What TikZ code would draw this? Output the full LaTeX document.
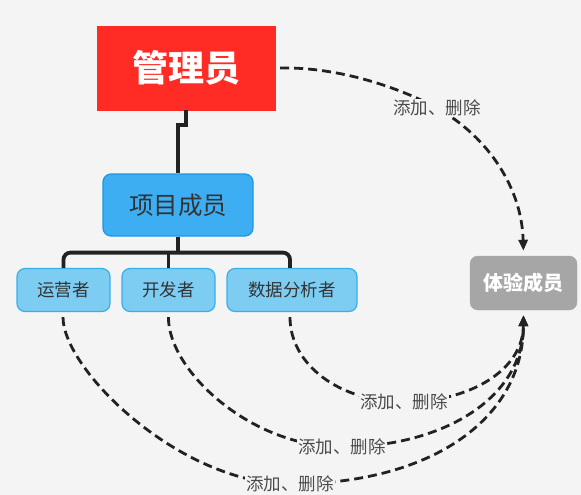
\documentclass[tikz,border=0pt]{standalone}
\usepackage{fontspec}
\setmainfont{Noto Sans CJK SC}
\usetikzlibrary{arrows.meta}
\definecolor{bg}{HTML}{F4F4F4}
\definecolor{adminred}{HTML}{FF2B24}
\definecolor{projfill}{HTML}{3DAEF2}
\definecolor{projline}{HTML}{1C97E3}
\definecolor{kidfill}{HTML}{7DCDF3}
\definecolor{kidline}{HTML}{3AAEE8}
\definecolor{expgray}{HTML}{A6A6A6}
\definecolor{linec}{HTML}{222222}
\definecolor{txt}{HTML}{333333}
\definecolor{lbltxt}{HTML}{4A4A4A}
\tikzset{
  adminbox/.style={fill=adminred, draw=adminred, minimum width=178pt, minimum height=84pt, inner sep=0pt,
    text=white, font=\fontsize{36}{40}\selectfont\bfseries},
  projbox/.style={fill=projfill, draw=projline, line width=1.2pt, rounded corners=8pt, minimum width=150pt,
    minimum height=62pt, inner sep=0pt, text=txt, font=\fontsize{24.5}{28}\selectfont},
  kidbox/.style={fill=kidfill, draw=kidline, line width=1.2pt, rounded corners=8pt,
    minimum height=43pt, inner sep=0pt, text=txt, font=\fontsize{17.5}{20}\selectfont},
  expbox/.style={fill=expgray, draw=expgray, rounded corners=8pt, minimum width=107pt, minimum height=54pt,
    inner sep=0pt, text=white, font=\fontsize{20}{24}\selectfont\bfseries},
  treeline/.style={draw=linec, line width=3.8pt},
  dashlink/.style={draw=linec, line width=2.8pt, dash pattern=on 9pt off 5pt,
    -{Triangle[length=11pt,width=9pt]}, shorten <=5pt, shorten >=5pt},
  lbl/.style={fill=bg, inner sep=1pt, text=lbltxt, font=\fontsize{17.5}{20}\selectfont},
}
\begin{document}
\begin{tikzpicture}[x=1pt,y=-1pt]
\fill[bg] (0,0) rectangle (581,495);
\useasboundingbox (0,0) rectangle (581,495);

\node[adminbox] (admin) at (186,68) {管理员};
\node[projbox] (proj) at (178,205) {项目成员};
\node[kidbox, minimum width=93pt] (op) at (63.5,290) {运营者};
\node[kidbox, minimum width=93pt] (dev) at (168.5,290) {开发者};
\node[kidbox, minimum width=130pt] (da) at (292,290) {数据分析者};
\node[expbox] (exp) at (523.5,283) {体验成员};

% tree connectors
\draw[treeline] (admin.south) -- ++(0,15) -| (proj.north);
\draw[treeline] (proj.south) -- ++(0,16) coordinate (j);
\draw[treeline, rounded corners=7pt] (op.north) |- (j) -| ([xshift=-2pt]da.north);
\draw[treeline] (dev.north) -- (dev.north |- j);

% dashed links
\draw[dashlink] (admin.east) .. controls (340,67) and (400,88) .. (437,108)
  node[lbl] (l0) {添加、删除}
  .. controls (490,138) and (522,190) .. (exp.north);
\draw[dashlink] ([xshift=-0.5pt]op.south) .. controls (63,370) and (180,484) .. (290,484)
  node[lbl] (l1) {添加、删除}
  .. controls (430,484) and (523,420) .. (exp.south);
\draw[dashlink] (dev.south) .. controls (168,370) and (250,447) .. (342,447)
  node[lbl] (l2) {添加、删除}
  .. controls (440,447) and (523,400) .. (exp.south);
\draw[dashlink] ([xshift=-2pt]da.south) .. controls (290,365) and (340,402) .. (404,402)
  node[lbl] (l3) {添加、删除}
  .. controls (470,402) and (523,370) .. (exp.south);
\end{tikzpicture}
\end{document}
